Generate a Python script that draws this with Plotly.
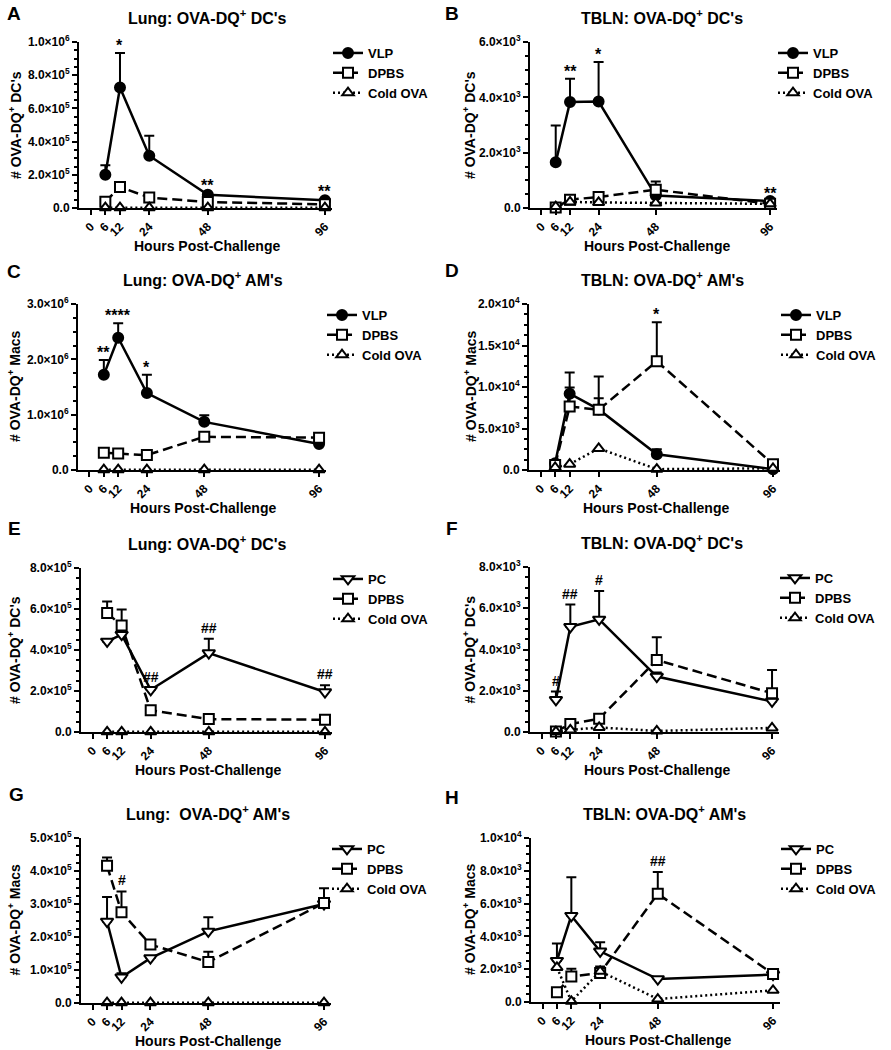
import math
import plotly.graph_objects as go

W, H = 891, 1050
FONT = "Liberation Sans, Arial, sans-serif"

hours = [6, 12, 24, 48, 96]
x_tickvals = [0, 6, 12, 24, 48, 96]
x_ticktext = ["0", "6", "12", "24", "48", "96"]

# ---- Panel A: Lung OVA-DQ+ DC's ----
A_vlp = [2.0e5, 7.26e5, 3.15e5, 8.0e4, 4.6e4]
A_vlp_err = [5.8e4, 2.07e5, 1.2e5, 1.0e4, 6e3]
A_dpbs = [3.8e4, 1.27e5, 6.3e4, 3.6e4, 2.2e4]
A_dpbs_err = [5e3, 1.2e4, 8e3, 5e3, 3e3]
A_cold = [2e3, 2e3, 2e3, 2e3, 2e3]
A_stars_x = [12, 48, 96]
A_stars = ["*", "**", "**"]

# ---- Panel B: TBLN OVA-DQ+ DC's ----
B_vlp = [1.65e3, 3.83e3, 3.85e3, 0.45e3, 0.25e3]
B_vlp_err = [1.33e3, 0.84e3, 1.43e3, 0.0, 0.0]
B_dpbs = [0.02e3, 0.30e3, 0.40e3, 0.66e3, 0.15e3]
B_dpbs_err = [0.0, 0.05e3, 0.05e3, 0.30e3, 0.05e3]
B_cold = [0.05e3, 0.22e3, 0.20e3, 0.18e3, 0.15e3]
B_stars_x = [12, 24, 96]
B_stars = ["**", "*", "**"]

# ---- Panel C: Lung OVA-DQ+ AM's ----
C_vlp = [1.72e6, 2.39e6, 1.39e6, 0.87e6, 0.47e6]
C_vlp_err = [0.27e6, 0.26e6, 0.33e6, 0.12e6, 0.02e6]
C_dpbs = [0.31e6, 0.30e6, 0.27e6, 0.60e6, 0.585e6]
C_dpbs_err = [0.08e6, 0.02e6, 0.02e6, 0.06e6, 0.02e6]
C_cold = [5e3, 5e3, 5e3, 5e3, 5e3]
C_stars_x = [6, 12, 24]
C_stars = ["**", "****", "*"]

# ---- Panel D: TBLN OVA-DQ+ AM's ----
D_vlp = [0.8e3, 9.2e3, 7.3e3, 1.9e3, 0.1e3]
D_vlp_err = [0.2e3, 2.55e3, 1.35e3, 0.6e3, 0.0]
D_dpbs = [0.6e3, 7.65e3, 7.25e3, 13.1e3, 0.7e3]
D_dpbs_err = [0.2e3, 2.3e3, 4.0e3, 4.7e3, 0.1e3]
D_cold = [0.3e3, 0.7e3, 2.6e3, 0.1e3, 0.2e3]
D_stars_x = [48]
D_stars = ["*"]

# ---- Panel E: Lung OVA-DQ+ DC's (PC) ----
E_pc = [4.42e5, 4.75e5, 2.06e5, 3.85e5, 1.95e5]
E_pc_err = [0.0, 0.1e5, 0.1e5, 0.7e5, 0.33e5]
E_dpbs = [5.8e5, 5.19e5, 1.06e5, 0.63e5, 0.6e5]
E_dpbs_err = [0.57e5, 0.78e5, 0.05e5, 0.05e5, 0.05e5]
E_cold = [1e3, 1e3, 1e3, 1e3, 1e3]
E_stars_x = [24, 48, 96]
E_stars = ["##", "##", "##"]

# ---- Panel F: TBLN OVA-DQ+ DC's (PC) ----
F_pc = [1.56e3, 5.1e3, 5.46e3, 2.69e3, 1.48e3]
F_pc_err = [0.4e3, 1.08e3, 1.38e3, 0.2e3, 0.2e3]
F_dpbs = [0.03e3, 0.39e3, 0.64e3, 3.49e3, 1.88e3]
F_dpbs_err = [0.0, 0.05e3, 0.1e3, 1.1e3, 1.13e3]
F_cold = [0.02e3, 0.1e3, 0.22e3, 0.05e3, 0.2e3]
F_stars_x = [6, 12, 24]
F_stars = ["#", "##", "#"]

# ---- Panel G: Lung OVA-DQ+ AM's (PC) ----
G_pc = [2.47e5, 0.78e5, 1.36e5, 2.17e5, 3.0e5]
G_pc_err = [0.74e5, 0.12e5, 0.05e5, 0.43e5, 0.48e5]
G_dpbs = [4.16e5, 2.75e5, 1.77e5, 1.24e5, 3.03e5]
G_dpbs_err = [0.25e5, 0.63e5, 0.05e5, 0.31e5, 0.05e5]
G_cold = [1e3, 1e3, 1e3, 1e3, 1e3]
G_stars_x = [12]
G_stars = ["#"]

# ---- Panel H: TBLN OVA-DQ+ AM's (PC) ----
H_pc = [2.52e3, 5.26e3, 3.09e3, 1.4e3, 1.67e3]
H_pc_err = [1.04e3, 2.34e3, 0.55e3, 0.1e3, 0.1e3]
H_dpbs = [0.59e3, 1.56e3, 1.77e3, 6.6e3, 1.71e3]
H_dpbs_err = [0.05e3, 0.47e3, 0.4e3, 1.33e3, 0.26e3]
H_cold = [2.11e3, 0.04e3, 1.87e3, 0.18e3, 0.71e3]
H_stars_x = [48]
H_stars = ["##"]

STYLE = {
    "VLP": dict(symbol="circle", fill="black", dash="solid", size=10),
    "PC": dict(symbol="triangle-down", fill="white", dash="solid", size=11),
    "DPBS": dict(symbol="square", fill="white", dash="10px,5px", size=10),
    "Cold OVA": dict(symbol="triangle-up", fill="white", dash="2px,3px", size=10),
}

DC = "# OVA-DQ<sup>+</sup> DC's"
MAC = "# OVA-DQ<sup>+</sup> Macs"

# box = (left, right, top, bottom) px; tcx/xtx = title and x-title centres; ytx = y-title x
panels = [
    dict(letter="A", title="Lung: OVA-DQ<sup>+</sup> DC's", ylabel=DC, ymax=1e6, dtick=2e5,
         series=[("VLP", A_vlp, A_vlp_err), ("DPBS", A_dpbs, A_dpbs_err), ("Cold OVA", A_cold, None)],
         sx=A_stars_x, st=A_stars, box=(79, 332, 42, 208), letter_xy=(14, 14), ytx=15, tcx=207, xtx=207),
    dict(letter="B", title="TBLN: OVA-DQ<sup>+</sup> DC's", ylabel=DC, ymax=6e3, dtick=2e3,
         series=[("VLP", B_vlp, B_vlp_err), ("DPBS", B_dpbs, B_dpbs_err), ("Cold OVA", B_cold, None)],
         sx=B_stars_x, st=B_stars, box=(530, 777, 42, 208), letter_xy=(452, 14), ytx=469, tcx=662, xtx=657),
    dict(letter="C", title="Lung: OVA-DQ<sup>+</sup> AM's", ylabel=MAC, ymax=3e6, dtick=1e6,
         series=[("VLP", C_vlp, C_vlp_err), ("DPBS", C_dpbs, C_dpbs_err), ("Cold OVA", C_cold, None)],
         sx=C_stars_x, st=C_stars, box=(78, 326, 304, 470), letter_xy=(14, 272), ytx=14, tcx=203, xtx=203),
    dict(letter="D", title="TBLN: OVA-DQ<sup>+</sup> AM's", ylabel=MAC, ymax=2e4, dtick=5e3,
         series=[("VLP", D_vlp, D_vlp_err), ("DPBS", D_dpbs, D_dpbs_err), ("Cold OVA", D_cold, None)],
         sx=D_stars_x, st=D_stars, box=(529, 780, 304, 470), letter_xy=(452, 270), ytx=470, tcx=662, xtx=656),
    dict(letter="E", title="Lung: OVA-DQ<sup>+</sup> DC's", ylabel=DC, ymax=8e5, dtick=2e5,
         series=[("PC", E_pc, E_pc_err), ("DPBS", E_dpbs, E_dpbs_err), ("Cold OVA", E_cold, None)],
         sx=E_stars_x, st=E_stars, box=(81, 332, 568, 732), letter_xy=(14, 528), ytx=14, tcx=207, xtx=208),
    dict(letter="F", title="TBLN: OVA-DQ<sup>+</sup> DC's", ylabel=DC, ymax=8e3, dtick=2e3,
         series=[("PC", F_pc, F_pc_err), ("DPBS", F_dpbs, F_dpbs_err), ("Cold OVA", F_cold, None)],
         sx=F_stars_x, st=F_stars, box=(530, 779, 567, 732), letter_xy=(452, 528), ytx=469, tcx=662, xtx=657),
    dict(letter="G", title="Lung:  OVA-DQ<sup>+</sup> AM's", ylabel=MAC, ymax=5e5, dtick=1e5,
         series=[("PC", G_pc, G_pc_err), ("DPBS", G_dpbs, G_dpbs_err), ("Cold OVA", G_cold, None)],
         sx=G_stars_x, st=G_stars, box=(81, 331, 838, 1003), letter_xy=(16, 794), ytx=14, tcx=208, xtx=208),
    dict(letter="H", title="TBLN: OVA-DQ<sup>+</sup> AM's", ylabel=MAC, ymax=1e4, dtick=2e3,
         series=[("PC", H_pc, H_pc_err), ("DPBS", H_dpbs, H_dpbs_err), ("Cold OVA", H_cold, None)],
         sx=H_stars_x, st=H_stars, box=(531, 780, 838, 1002), letter_xy=(452, 797), ytx=469, tcx=664, xtx=658),
]


def sci(v):
    if v == 0:
        return "0.0"
    e = int(math.floor(math.log10(v) + 1e-9))
    m = v / 10 ** e
    return f"{m:.1f}×10<sup>{e}</sup>"


def bold(size):
    return dict(size=size, family=FONT, weight="bold", color="black")


fig = go.Figure()
layout = dict(
    width=W, height=H, margin=dict(l=0, r=0, t=0, b=0, autoexpand=False),
    paper_bgcolor="white", plot_bgcolor="white", showlegend=True,
    font=bold(11),
)
annotations = []

for i, p in enumerate(panels):
    n = "" if i == 0 else str(i + 1)
    xa, ya = "x" + n, "y" + n
    leg = "legend" + n
    x0, x1, y0, y1 = p["box"]
    yvals = []
    v = 0.0
    while v <= p["ymax"] * 1.0001:
        yvals.append(v)
        v += p["dtick"]
    layout["xaxis" + n] = dict(
        domain=[x0 / W, x1 / W], anchor=ya, range=[-4.8, 98.9], automargin=False,
        tickmode="array", tickvals=x_tickvals, ticktext=x_ticktext, tickangle=-45,
        showline=True, linecolor="black", linewidth=2, ticks="outside", ticklen=5,
        tickwidth=2, tickcolor="black", showgrid=False, zeroline=False,
        tickfont=bold(12),
    )
    layout["yaxis" + n] = dict(
        domain=[1 - y1 / H, 1 - y0 / H], anchor=xa, range=[0, p["ymax"]], automargin=False,
        tickmode="array", tickvals=yvals, ticktext=[sci(t) for t in yvals],
        showline=True, linecolor="black", linewidth=2, ticks="outside", ticklen=5,
        tickwidth=2, tickcolor="black", showgrid=False, zeroline=False,
        minor=dict(dtick=p["dtick"] / 4, ticks="outside", ticklen=3, tickwidth=1.5,
                   tickcolor="black", showgrid=False),
        tickfont=bold(12),
    )
    layout[leg] = dict(
        x=(x1 - 4) / W, y=1 - (y0 - 4) / H, xanchor="left", yanchor="top",
        bgcolor="rgba(0,0,0,0)", itemwidth=30, tracegroupgap=0,
        font=bold(13),
    )
    for name, vals, err in p["series"]:
        s = STYLE[name]
        tr = dict(
            x=hours, y=vals, xaxis=xa, yaxis=ya, name=name, legend=leg,
            mode="lines+markers", cliponaxis=False,
            line=dict(color="black", width=2.5, dash=s["dash"]),
            marker=dict(symbol=s["symbol"], size=s["size"], color=s["fill"],
                        line=dict(color="black", width=2)),
        )
        if err is not None:
            tr["error_y"] = dict(type="data", symmetric=False, array=err,
                                 arrayminus=[0] * len(err), color="black",
                                 thickness=2, width=5)
        fig.add_trace(go.Scatter(**tr))
    # significance marks above the highest bar at each time point
    for hx, txt in zip(p["sx"], p["st"]):
        k = hours.index(hx)
        top = 0
        for name, vals, err in p["series"]:
            e = err[k] if err is not None else 0
            top = max(top, vals[k] + e)
        annotations.append(dict(
            x=hx, y=top, xref=xa, yref=ya, text=txt, showarrow=False,
            yanchor="bottom", yshift=-3 if "*" in txt else 1,
            font=bold(16 if "*" in txt else 14),
        ))
    # panel title
    annotations.append(dict(
        x=p["tcx"] / W, y=1 - (y0 - 25) / H, xref="paper", yref="paper",
        text=p["title"], showarrow=False, xanchor="center", yanchor="middle",
        font=bold(16),
    ))
    # x axis title
    annotations.append(dict(
        x=p["xtx"] / W, y=1 - (y1 + 38) / H, xref="paper", yref="paper",
        text="Hours Post-Challenge", showarrow=False, xanchor="center", yanchor="middle",
        font=bold(14),
    ))
    # y axis title
    annotations.append(dict(
        x=p["ytx"] / W, y=1 - ((y0 + y1) / 2) / H, xref="paper", yref="paper",
        text=p["ylabel"], showarrow=False, xanchor="center", yanchor="middle",
        textangle=-90, font=bold(14),
    ))
    lx, ly = p["letter_xy"]
    annotations.append(dict(
        x=lx / W, y=1 - ly / H, xref="paper", yref="paper", text=p["letter"],
        showarrow=False, xanchor="center", yanchor="middle",
        font=bold(19),
    ))

layout["annotations"] = annotations
fig.update_layout(**layout)
fig.write_html("out.html", config={"displayModeBar": False},
               post_script="document.body.style.margin='0px';")
